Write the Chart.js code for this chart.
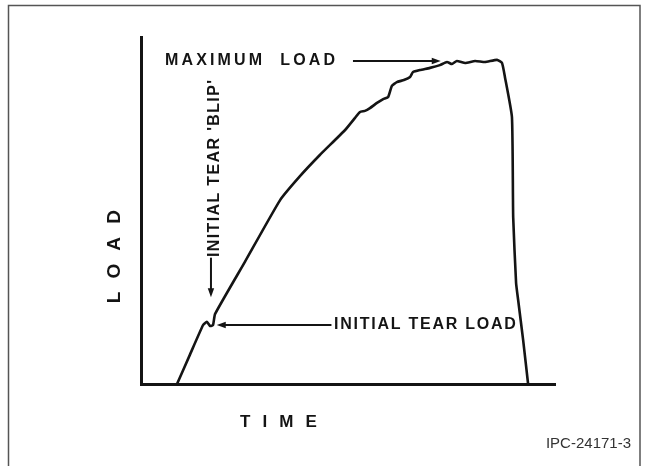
<!DOCTYPE html>
<html>
<head>
<meta charset="utf-8">
<script src="https://cdn.jsdelivr.net/npm/chart.js@4"></script>
<style>
  html, body { margin: 0; padding: 0; background: #fff; }
  #wrap { width: 649px; height: 466px; position: relative; }
</style>
</head>
<body>
<div id="wrap"><canvas id="viz"></canvas></div>
<script>
// load vs time trace (time 0-100, load 0-100)
const timeVals = [8.7, 11.8, 15.0, 15.9, 16.7, 17.4, 17.9, 25.1, 33.6, 38.4, 43.2, 49.3,
  51.7, 52.9, 54.1, 55.3, 57.0, 58.5, 59.7, 60.6, 61.8, 63.5, 65.0, 65.7, 67.4, 69.8, 72.2,
  73.9, 75.1, 76.3, 78.3, 80.7, 83.1, 86.0, 87.2, 87.9, 89.6, 89.9, 90.6, 91.1, 92.3, 93.5];
const loadVals = [0, 8.4, 17.0, 17.9, 16.7, 17.0, 20.2, 35.2, 53.0, 59.9, 66.0, 73.2,
  76.7, 78.4, 78.7, 79.5, 81.0, 82.1, 82.7, 85.9, 87.0, 87.6, 88.5, 89.9, 90.5, 91.1, 91.9,
  92.8, 92.2, 93.1, 92.5, 93.1, 92.8, 93.4, 92.5, 88.5, 76.9, 48.1, 29.1, 24.2, 12.7, 0];

const axisTitleX = 'T I M E';
const axisTitleY = 'L O A D';
const labelMax = 'MAXIMUM  LOAD';
const labelTear = 'INITIAL TEAR LOAD';
const labelBlip = "INITIAL TEAR 'BLIP'";
const figId = 'IPC-24171-3';

const INK = '#141414';
const LETTER = 'bold 16px "Liberation Sans", Arial, sans-serif';

// text stretched to a target width with letter spacing
function spacedText(ctx, text, x, y, width){
  ctx.letterSpacing = '0px';
  const w = ctx.measureText(text).width;
  const sp = (width - w) / (text.length - 1);
  ctx.letterSpacing = sp + 'px';
  ctx.fillText(text, x, y);
  ctx.letterSpacing = '0px';
}

function arrow(ctx, x1, y1, x2, y2){
  const a = Math.atan2(y2 - y1, x2 - x1);
  const len = 9, half = 3.2;
  ctx.beginPath();
  ctx.moveTo(x1, y1);
  ctx.lineTo(x2 - Math.cos(a) * len * 0.6, y2 - Math.sin(a) * len * 0.6);
  ctx.stroke();
  ctx.beginPath();
  ctx.moveTo(x2, y2);
  ctx.lineTo(x2 - Math.cos(a) * len - Math.sin(a) * half, y2 - Math.sin(a) * len + Math.cos(a) * half);
  ctx.lineTo(x2 - Math.cos(a) * len + Math.sin(a) * half, y2 - Math.sin(a) * len - Math.cos(a) * half);
  ctx.closePath();
  ctx.fill();
}

const notes = {
  id: 'notes',
  afterDraw(chart){
    const { ctx, chartArea: ca } = chart;
    const X = v => chart.scales.x.getPixelForValue(v);
    const Y = v => chart.scales.y.getPixelForValue(v);
    ctx.save();

    // figure frame (open at the bottom)
    ctx.strokeStyle = '#555';
    ctx.lineWidth = 1.5;
    ctx.beginPath();
    ctx.moveTo(8.5, 470); ctx.lineTo(8.5, 5.5); ctx.lineTo(640, 5.5); ctx.lineTo(640, 470);
    ctx.stroke();

    ctx.fillStyle = INK;
    ctx.strokeStyle = INK;
    ctx.lineWidth = 2;
    ctx.textBaseline = 'middle';
    ctx.textAlign = 'left';

    // maximum load
    ctx.font = LETTER;
    spacedText(ctx, labelMax, X(5.8), Y(93.1), 170);
    arrow(ctx, X(51.2), Y(93.1), X(72.4), Y(93.1));

    // initial tear load
    spacedText(ctx, labelTear, X(46.6), Y(17.0), 182);
    arrow(ctx, X(46.0), Y(17.0), X(18.3), Y(17.0));

    // blip, vertical
    ctx.save();
    ctx.translate(X(17.7), Y(36.6));
    ctx.rotate(-Math.PI / 2);
    spacedText(ctx, labelBlip, 0, 0, 177);
    ctx.restore();
    arrow(ctx, X(16.9), Y(36.4), X(16.9), Y(25.0));

    // axis titles
    ctx.font = 'bold 19px "Liberation Sans", Arial, sans-serif';
    ctx.save();
    ctx.translate(ca.left - 26, Y(23.3));
    ctx.rotate(-Math.PI / 2);
    spacedText(ctx, axisTitleY, 0, 0, 93);
    ctx.restore();
    ctx.font = 'bold 17px "Liberation Sans", Arial, sans-serif';
    spacedText(ctx, axisTitleX, X(23.9), ca.bottom + 38, 77);

    // figure id
    ctx.font = '15px "Liberation Sans", Arial, sans-serif';
    ctx.fillStyle = '#333';
    ctx.textAlign = 'right';
    ctx.textBaseline = 'alphabetic';
    ctx.fillText(figId, 631, 448);

    ctx.restore();
  }
};

const points = timeVals.map((t, i) => ({ x: t, y: loadVals[i] }));

new Chart(document.getElementById('viz').getContext('2d'), {
  type: 'scatter',
  data: {
    datasets: [{
      label: 'Load',
      data: points,
      showLine: true,
      borderColor: INK,
      borderWidth: 2.6,
      pointRadius: 0,
      tension: 0.15
    }]
  },
  options: {
    responsive: true,
    maintainAspectRatio: false,
    animation: false,
    layout: { padding: { top: 37, right: 94, left: 0, bottom: 0 } },
    plugins: { legend: { display: false }, tooltip: { enabled: false } },
    scales: {
      x: {
        type: 'linear', min: 0, max: 100,
        ticks: { display: false },
        grid: { display: false, drawTicks: false },
        border: { display: true, color: INK, width: 3 },
        afterFit: s => { s.height = 82; }
      },
      y: {
        min: 0, max: 100,
        ticks: { display: false },
        grid: { display: false, drawTicks: false },
        border: { display: true, color: INK, width: 3 },
        afterFit: s => { s.width = 141; }
      }
    }
  },
  plugins: [notes]
});
</script>
</body>
</html>
